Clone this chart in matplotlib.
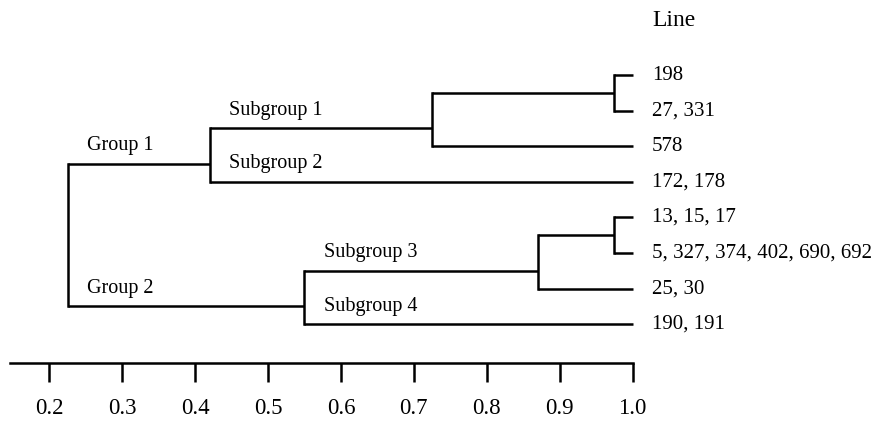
import matplotlib
matplotlib.use("Agg")
import matplotlib.pyplot as plt

# leaves, top to bottom
leaf_labels = ['198', '27, 331', '578', '172, 178',
               '13, 15, 17', '5, 327, 374, 402, 690, 692', '25, 30', '190, 191']

# merges: ids 0-7 are leaves, 8+ are merges in this order
merge_left = [0, 8, 9, 4, 11, 12, 10]
merge_right = [1, 2, 3, 5, 6, 7, 13]
merge_height = [0.975, 0.725, 0.42, 0.975, 0.87, 0.55, 0.225]

# group labels and the node each one sits above
group_names = ['Group 1', 'Subgroup 1', 'Subgroup 2', 'Group 2', 'Subgroup 3', 'Subgroup 4']
group_nodes = [10, 9, 3, 13, 12, 7]

scale_ticks = [0.2, 0.3, 0.4, 0.5, 0.6, 0.7, 0.8, 0.9, 1.0]
leaf_end = 1.0

plt.rcParams['font.family'] = ['Liberation Serif', 'DejaVu Serif']

fig = plt.figure(figsize=(8.79, 4.22), dpi=100)
ax = fig.add_axes([0, 59 / 422, 1, 363 / 422])
ax.set_xlim(0.1324, 1.338)
ax.set_ylim(8.09, -2.107)

n_leaves = len(leaf_labels)
node_x = {i: leaf_end for i in range(n_leaves)}
node_y = {i: float(i) for i in range(n_leaves)}
parent_x = {}
for k, (l, r, h) in enumerate(zip(merge_left, merge_right, merge_height)):
    nid = n_leaves + k
    node_x[nid] = h
    node_y[nid] = node_y[r] - 0.5
    parent_x[l] = h
    parent_x[r] = h

lw = 1.8
root = n_leaves + len(merge_height) - 1
for nid in node_x:
    if nid != root:
        # horizontal branch to the parent
        ax.plot([parent_x[nid], node_x[nid]], [node_y[nid], node_y[nid]],
                color='black', lw=lw, solid_capstyle='butt')
for k, (l, r, h) in enumerate(zip(merge_left, merge_right, merge_height)):
    ax.plot([h, h], [node_y[l], node_y[r]], color='black', lw=lw,
            solid_capstyle='projecting')

for i, lab in enumerate(leaf_labels):
    ax.annotate(lab, (leaf_end, i), xytext=(14, 0), textcoords='offset points',
                va='center', ha='left', fontsize=15)
ax.annotate('Line', (leaf_end, -1.545), xytext=(14, 0), textcoords='offset points',
            va='center', ha='left', fontsize=17)

for name, nid in zip(group_names, group_nodes):
    ax.annotate(name, (parent_x[nid], node_y[nid]), xytext=(14, 13),
                textcoords='offset points', va='center', ha='left', fontsize=14.5)

# scale bar along the bottom
for s in ['top', 'left', 'right']:
    ax.spines[s].set_visible(False)
ax.spines['bottom'].set_bounds(0.146, 1.0)
ax.spines['bottom'].set_linewidth(1.8)
ax.set_yticks([])
ax.set_xticks(scale_ticks)
ax.set_xticklabels([f'{t:.1f}' for t in scale_ticks], fontsize=16.5)
ax.tick_params(axis='x', direction='out', length=13.5, width=1.8, pad=12)

fig.savefig('out.png', dpi=100)
